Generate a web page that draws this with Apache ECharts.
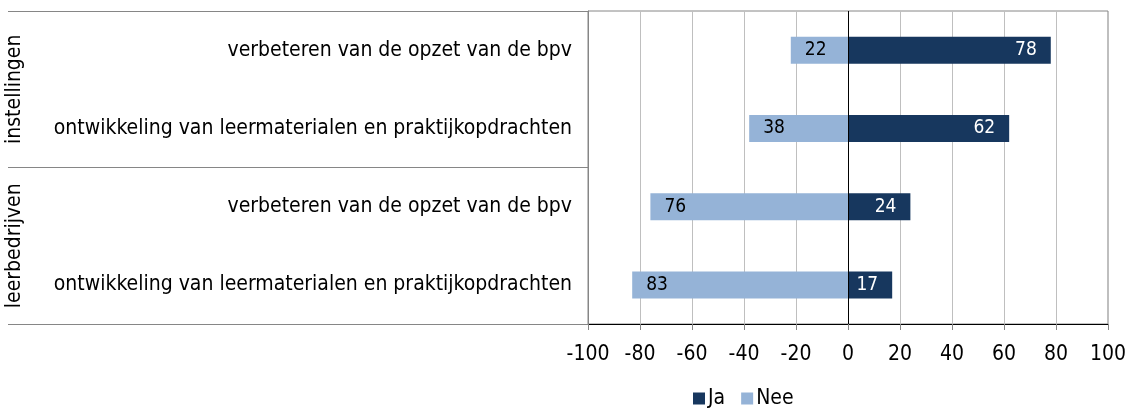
<!DOCTYPE html>
<html>
<head>
<meta charset="utf-8">
<script src="https://cdn.jsdelivr.net/npm/echarts@6/dist/echarts.min.js"></script>
<style>
  html, body { margin: 0; padding: 0; background: #fff; }
  #chart { width: 1129px; height: 408px; }
</style>
</head>
<body>
<div id="chart"></div>
<script>
// rows from top to bottom
const categories = [
  'verbeteren van de opzet van de bpv',
  'ontwikkeling van leermaterialen en praktijkopdrachten',
  'verbeteren van de opzet van de bpv',
  'ontwikkeling van leermaterialen en praktijkopdrachten'
]
const groups = ['instellingen', 'leerbedrijven']
const jaValues = [78, 62, 24, 17]
const neeValues = [22, 38, 76, 83]
const xTicks = { min: -100, max: 100, interval: 20 }

const font = '"DejaVu Sans Condensed", "DejaVu Sans", sans-serif'
const darkBlue = '#17375e'
const lightBlue = '#95b3d7'

var myChart = echarts.init(document.getElementById('chart'))
var option = {
  animation: false,
  textStyle: { fontFamily: font },
  grid: {
    left: 588,
    right: 21,
    top: 11,
    bottom: 84,
    show: true,
    borderColor: '#868686',
    borderWidth: 1
  },
  legend: {
    left: 693,
    top: 388,
    padding: 0,
    itemWidth: 12,
    itemHeight: 12,
    itemGap: 16,
    icon: 'rect',
    textStyle: { fontFamily: font, fontSize: 21, color: '#000', padding: [0, 0, 0, -2] },
    data: ['Ja', 'Nee']
  },
  xAxis: {
    type: 'value',
    min: xTicks.min,
    max: xTicks.max,
    interval: xTicks.interval,
    axisLine: { show: true, onZero: false, lineStyle: { color: '#000', width: 1 } },
    axisTick: { show: true, length: 6, lineStyle: { color: '#868686' } },
    axisLabel: { color: '#000', fontSize: 21, fontFamily: font, margin: 20 },
    splitLine: { show: true, lineStyle: { color: '#bfbfbf' } }
  },
  yAxis: [
    {
      type: 'category',
      inverse: true,
      data: categories,
      axisLine: { show: false, onZero: false },
      axisTick: { show: false },
      axisLabel: { color: '#000', fontSize: 21, fontFamily: font, margin: 16, interval: 0 }
    },
    {
      type: 'category',
      inverse: true,
      data: groups,
      position: 'left',
      axisLine: { show: true, onZero: false, lineStyle: { color: '#868686' } },
      axisTick: { show: true, interval: 0, length: 580, lineStyle: { color: '#868686' } },
      axisLabel: { color: '#000', fontSize: 21, fontFamily: font, rotate: 90, margin: 563, interval: 0 }
    }
  ],
  series: [
    {
      name: 'Ja',
      type: 'bar',
      stack: 'total',
      barWidth: 27,
      itemStyle: { color: darkBlue },
      label: {
        show: true,
        position: 'insideRight',
        distance: 14,
        color: '#fff',
        fontSize: 19,
        fontFamily: font
      },
      data: jaValues,
      markLine: {
        silent: true,
        symbol: 'none',
        label: { show: false },
        lineStyle: { color: '#000', type: 'solid', width: 1 },
        data: [{ xAxis: 0 }]
      }
    },
    {
      name: 'Nee',
      type: 'bar',
      stack: 'total',
      barWidth: 27,
      itemStyle: { color: lightBlue },
      label: {
        show: true,
        position: 'insideLeft',
        distance: 14,
        color: '#000',
        fontSize: 19,
        fontFamily: font,
        formatter: p => Math.abs(p.value)
      },
      data: neeValues.map(v => -v)
    }
  ]
}
option && myChart.setOption(option)
</script>
</body>
</html>
